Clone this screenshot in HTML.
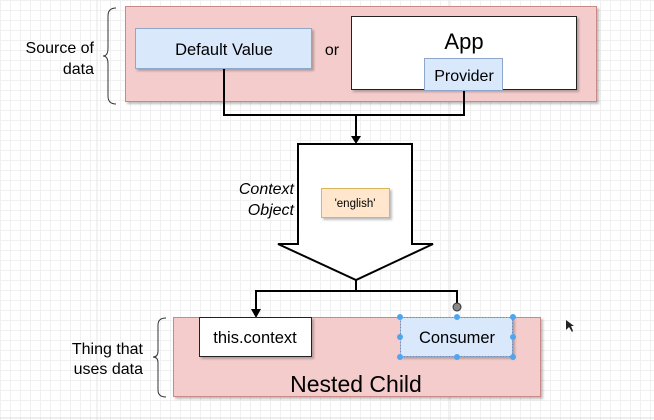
<!DOCTYPE html>
<html><head><style>
html,body{margin:0;padding:0;}
body{width:654px;height:420px;overflow:hidden;background:#fff;
background-image:linear-gradient(#f0f0f0 1px,transparent 1px),linear-gradient(90deg,#f0f0f0 1px,transparent 1px);
background-size:10px 10px;}
svg{position:absolute;left:0;top:0;font-family:"Liberation Sans",sans-serif;}
</style></head><body>
<svg width="654" height="420" xmlns="http://www.w3.org/2000/svg">
<defs><filter id="s" x="-5%" y="-5%" width="115%" height="120%"><feDropShadow dx="2" dy="2" stdDeviation="1" flood-color="#000" flood-opacity="0.25"/></filter></defs>
<line x1="97" y1="0" x2="97" y2="420" stroke="#e4e4e4"/>
<line x1="449" y1="0" x2="449" y2="420" stroke="#e4e4e4"/>
<rect x="125.5" y="6.5" width="471" height="95" fill="#f4cccc" stroke="#c98a87" filter="url(#s)"/>
<rect x="135.5" y="28.5" width="176" height="40" fill="#dae8fc" stroke="#8ea8cc" filter="url(#s)"/>
<text x="224" y="55" font-size="16.5" text-anchor="middle">Default Value</text>
<text x="332" y="55" font-size="16" text-anchor="middle">or</text>
<rect x="351.5" y="16.5" width="225" height="73" fill="#fff" stroke="#222" filter="url(#s)"/>
<text x="464" y="49" font-size="22" text-anchor="middle">App</text>
<rect x="424.5" y="58.5" width="78" height="32" fill="#dae8fc" stroke="#8ea8cc"/>
<text x="464" y="81" font-size="16" text-anchor="middle">Provider</text>
<text x="94" y="53" font-size="16" text-anchor="end">Source of</text>
<text x="94" y="74" font-size="16" text-anchor="end">data</text>
<path d="M116 8 Q108 8 108 16 L108 48 Q108 56 103 56 Q108 56 108 64 L108 96 Q108 104 116 104" fill="none" stroke="#333" stroke-width="1"/>
<path d="M224 69 V115 H464 V91 M356 115 V138" fill="none" stroke="#000" stroke-width="2"/>
<path d="M351 136 L356 144 L361 136 Z" fill="#000"/>
<path d="M298 144 H412 V244 H433 L356 280 L278 244 H298 Z" fill="#fff" stroke="#000" stroke-width="2"/>
<rect x="321.5" y="188.5" width="68" height="29" fill="#ffe6cc" stroke="#d6b656" filter="url(#s)"/>
<text x="355" y="207" font-size="11.5" text-anchor="middle">'english'</text>
<text x="294" y="194" font-size="16" font-style="italic" text-anchor="end">Context</text>
<text x="294" y="215" font-size="16" font-style="italic" text-anchor="end">Object</text>
<path d="M356 280 V291 M255 291 H457 V303 M256 291 V311" fill="none" stroke="#000" stroke-width="2"/>
<path d="M251 309 L256 318 L261 309 Z" fill="#000"/>
<circle cx="457" cy="307" r="4" fill="#888" stroke="#333"/>
<rect x="173.5" y="317.5" width="367" height="79" fill="#f4cccc" stroke="#c98a87" filter="url(#s)"/>
<rect x="199.5" y="317.5" width="112" height="39" fill="#fff" stroke="#222" filter="url(#s)"/>
<text x="255" y="343" font-size="16.5" text-anchor="middle">this.context</text>
<rect x="400.5" y="317.5" width="112" height="39" fill="#dae8fc" stroke="#6c8ebf" stroke-dasharray="2,1" filter="url(#s)"/>
<text x="457" y="343" font-size="16.5" text-anchor="middle">Consumer</text>
<g fill="#4ea6f0">
<circle cx="400" cy="317" r="3"/><circle cx="457" cy="317" r="3"/><circle cx="513" cy="317" r="3"/>
<circle cx="400" cy="337" r="3"/><circle cx="513" cy="337" r="3"/>
<circle cx="400" cy="357" r="3"/><circle cx="457" cy="357" r="3"/><circle cx="513" cy="357" r="3"/>
</g>
<text x="356" y="392" font-size="23" text-anchor="middle">Nested Child</text>
<text x="143" y="354" font-size="16" text-anchor="end">Thing that</text>
<text x="143" y="374" font-size="16" text-anchor="end">uses data</text>
<path d="M166 318 Q158 318 158 325 L158 351 Q158 357 153 357 Q158 357 158 363 L158 390 Q158 397 166 397" fill="none" stroke="#333" stroke-width="1"/>
<path d="M566 320 L566 330 L569 327 L572 332 L573 331 L571 326 L574 326 Z" fill="#222"/>
<line x1="0" y1="418" x2="654" y2="418" stroke="#ddd"/>
</svg>
</body></html>
